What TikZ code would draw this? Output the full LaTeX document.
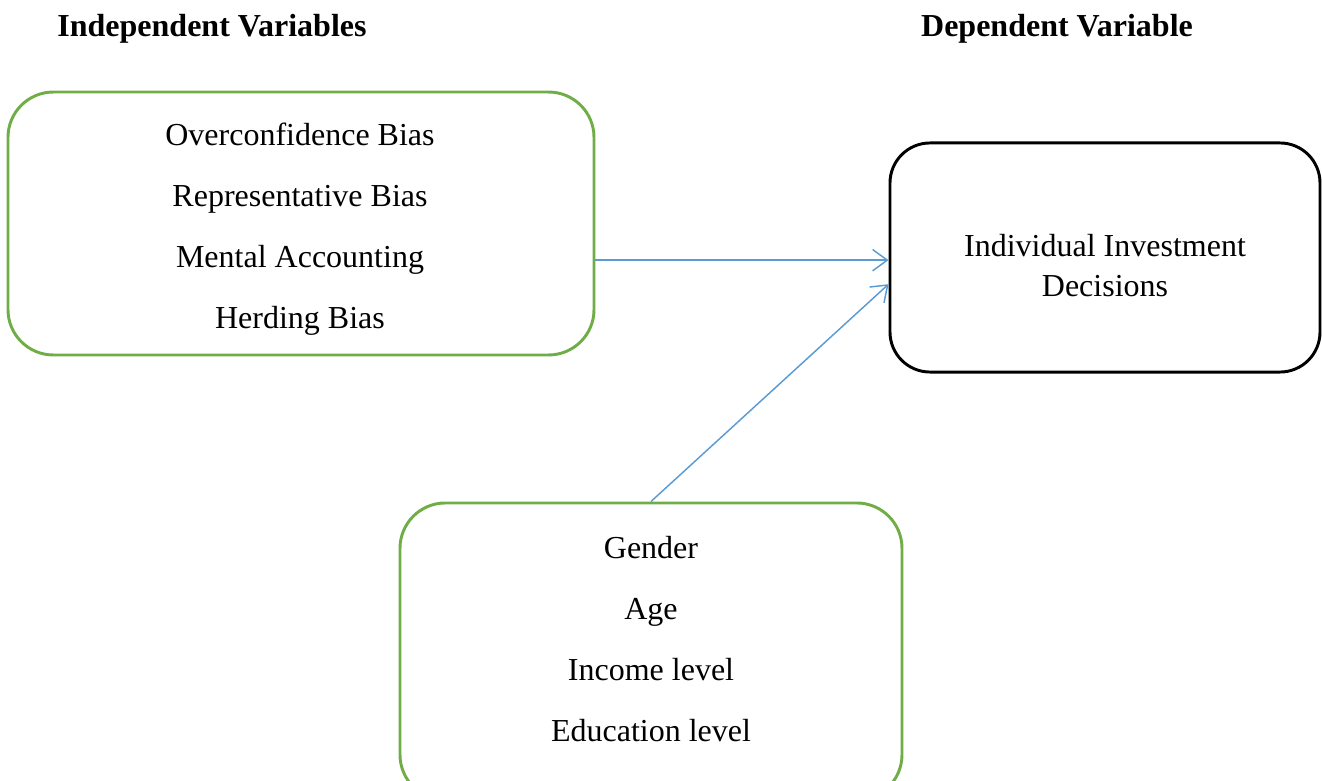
\documentclass[tikz,border=0pt]{standalone}
\usepackage{fontspec}
\setmainfont{Liberation Serif}
\definecolor{boxgreen}{RGB}{112,173,71}
\definecolor{linkblue}{RGB}{91,155,213}
\usetikzlibrary{arrows.meta,positioning}

\begin{document}
\begin{tikzpicture}[
  x=0.375pt, y=-0.375pt,
  varbox/.style={rectangle, draw=boxgreen, line width=1.1pt, rounded corners=17pt},
  outbox/.style={rectangle, draw=black, line width=1.1pt, rounded corners=15pt},
  items/.style={align=center, inner sep=0pt, anchor=north, font=\fontsize{12}{22.9}\selectfont},
  heading/.style={inner sep=0pt, anchor=base, font=\fontsize{12}{14}\selectfont\bfseries},
  link/.style={-{Straight Barb[length=5.5pt, width=8pt]}, linkblue, line width=0.55pt},
]
\useasboundingbox (0,0) rectangle (1322,781);
\clip (0,0) rectangle (1322,781);

\node[heading] (indepHead) at (212,37) {Independent Variables};
\node[heading] (depHead) at (1057,37) {Dependent Variable};

\node[varbox, minimum width=219.75pt, minimum height=98.6pt] (indep) at (301,223.5) {};
\node[outbox, minimum width=161.25pt, minimum height=85.9pt] (dep) at (1105,257.5) {};
\node[varbox, minimum width=188.25pt, minimum height=111.4pt] (ctrl) at (651,651.5) {};

\node[items] (indepList) at (300,122) {Overconfidence Bias\\Representative Bias\\Mental Accounting\\Herding Bias};
\node[items, font=\fontsize{12}{15}\selectfont] (depList) at (1105,234) {Individual Investment\\Decisions};
\node[items] (ctrlList) at (651,536) {Gender\\Age\\Income level\\Education level};

\draw[link] ([yshift=-1pt]indep.east |- dep.west) -- ([yshift=-1pt]dep.west);
\draw[link] (ctrl.north) -- ([yshift=-10pt]dep.west);
\end{tikzpicture}
\end{document}
